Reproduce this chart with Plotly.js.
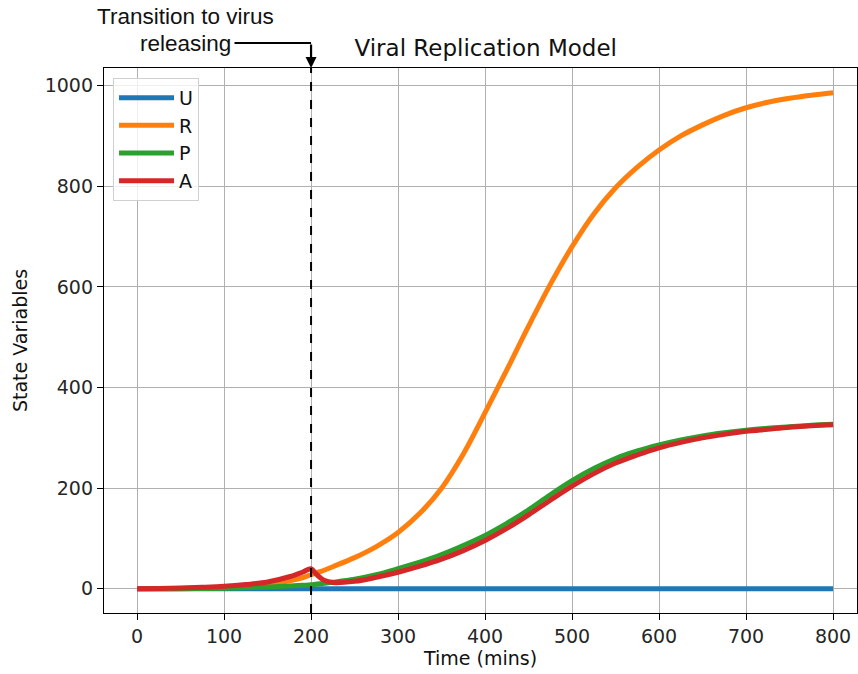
<!DOCTYPE html>
<html>
<head>
<meta charset="utf-8">
<script src="https://cdn.plot.ly/plotly-3.0.1.min.js"></script>
<style>html,body{margin:0;padding:0;background:#fff;}#chart{width:858px;height:674px;}</style>
</head>
<body>
<div id="chart"></div>
<script>
// Time points (mins)
const timeMins = [0, 25, 50, 75, 100, 125, 150, 175, 190, 200, 205, 210, 215, 225, 250, 275, 300, 325, 350, 375, 400, 425, 450, 475, 500, 525, 550, 575, 600, 625, 650, 675, 700, 725, 750, 775, 800];
// State variables
const seriesU = [0, 0, 0, 0, 0, 0, 0, 0, 0, 0, 0, 0, 0, 0, 0, 0, 0, 0, 0, 0, 0, 0, 0, 0, 0, 0, 0, 0, 0, 0, 0, 0, 0, 0, 0, 0, 0];
const seriesR = [0, 0.2, 0.5, 1.5, 3, 5, 9, 16, 22, 28, 31, 34, 37, 44, 62, 84, 112, 150, 200, 268, 350, 435, 522, 605, 680, 745, 797, 838, 872, 900, 922, 941, 956, 967, 975, 981, 986];
const seriesP = [0, 0.2, 0.4, 0.7, 1, 2, 3.5, 5.5, 7, 8, 9, 10, 11, 13, 19, 28, 40, 53, 68, 86, 106, 130, 157, 187, 215, 239, 259, 274, 286, 296, 304, 310, 315, 319, 322, 325, 327];
const seriesA = [0, 0.5, 1.5, 3, 5, 8.5, 13.5, 24, 33, 40, 31, 23, 17, 12.5, 15, 23, 33, 45, 59, 76, 96, 120, 147, 176, 204, 229, 250, 266, 280, 291, 300, 307, 313, 317, 321, 324, 326];
const seriesNames = ["U", "R", "P", "A"];
const seriesColors = ["#1f77b4", "#ff7f0e", "#2ca02c", "#d62728"];
const xTickVals = [0, 100, 200, 300, 400, 500, 600, 700, 800];
const yTickVals = [0, 200, 400, 600, 800, 1000];
const transitionTime = 200;

const allSeries = [seriesU, seriesR, seriesP, seriesA];
const traces = allSeries.map((vals, i) => ({
  x: timeMins, y: vals, name: seriesNames[i], type: "scatter", mode: "lines",
  line: {color: seriesColors[i], width: 5, shape: "spline", smoothing: 1}
}));

const tickFont = {family: "DejaVu Sans", size: 19, color: "#262626"};
const layout = {
  width: 858, height: 674,
  margin: {l: 104, r: 1, t: 68, b: 61},
  paper_bgcolor: "#fff", plot_bgcolor: "#fff",
  title: {text: "Viral Replication Model", font: {family: "DejaVu Sans", size: 23, color: "#111"},
          x: 0.507, xref: "paper", y: 1 - 48/674, yanchor: "middle"},
  xaxis: {range: [-38, 827.5], tickvals: xTickVals, ticks: "outside", ticklen: 6, tickcolor: "#000",
          showgrid: true, gridcolor: "#b0b0b0", gridwidth: 1.2, zeroline: false,
          showline: true, mirror: true, linecolor: "#000", linewidth: 1.3,
          tickfont: tickFont,
          title: {text: "Time (mins)", font: {family: "DejaVu Sans", size: 19, color: "#111"}, standoff: 2}},
  yaxis: {range: [-48, 1035], tickvals: yTickVals, ticks: "outside", ticklen: 6, tickcolor: "#000",
          showgrid: true, gridcolor: "#b0b0b0", gridwidth: 1.2, zeroline: false,
          showline: true, mirror: true, linecolor: "#000", linewidth: 1.3,
          tickfont: tickFont,
          title: {text: "State Variables", font: {family: "DejaVu Sans", size: 19, color: "#111"}, standoff: 12}},
  legend: {x: 0.012, y: 0.982, xanchor: "left", yanchor: "top",
           bgcolor: "rgba(255,255,255,0.8)", bordercolor: "#d0d0d0", borderwidth: 1,
           font: {family: "DejaVu Sans", size: 19, color: "#111"}, itemwidth: 55,
           tracegroupgap: 0},
  shapes: [
    {type: "line", xref: "x", yref: "paper", x0: transitionTime, x1: transitionTime, y0: 0, y1: 1,
     line: {color: "#000", width: 2, dash: "dash"}},
    {type: "line", xref: "x", yref: "paper", x0: 112, x1: transitionTime, y0: 1 + 25/545, y1: 1 + 25/545,
     line: {color: "#000", width: 2.2}}
  ],
  annotations: [
    {text: "Transition to virus", xref: "paper", yref: "paper",
     x: (185 - 104)/753, y: 1 + (68 - 17)/545, xanchor: "center", yanchor: "middle",
     showarrow: false, font: {family: "Liberation Sans", size: 22.5, color: "#111"}},
    {text: "releasing", xref: "paper", yref: "paper",
     x: (185 - 104)/753, y: 1 + (68 - 43)/545, xanchor: "center", yanchor: "middle",
     showarrow: false, font: {family: "Liberation Sans", size: 22.5, color: "#111"}},
    {text: "", xref: "x", yref: "paper", x: transitionTime, y: 1, ax: 0, ay: -25,
     showarrow: true, arrowhead: 2, arrowsize: 1, arrowwidth: 2.2, arrowcolor: "#000"}
  ]
};
Plotly.newPlot("chart", traces, layout, {displayModeBar: false});
</script>
</body>
</html>
